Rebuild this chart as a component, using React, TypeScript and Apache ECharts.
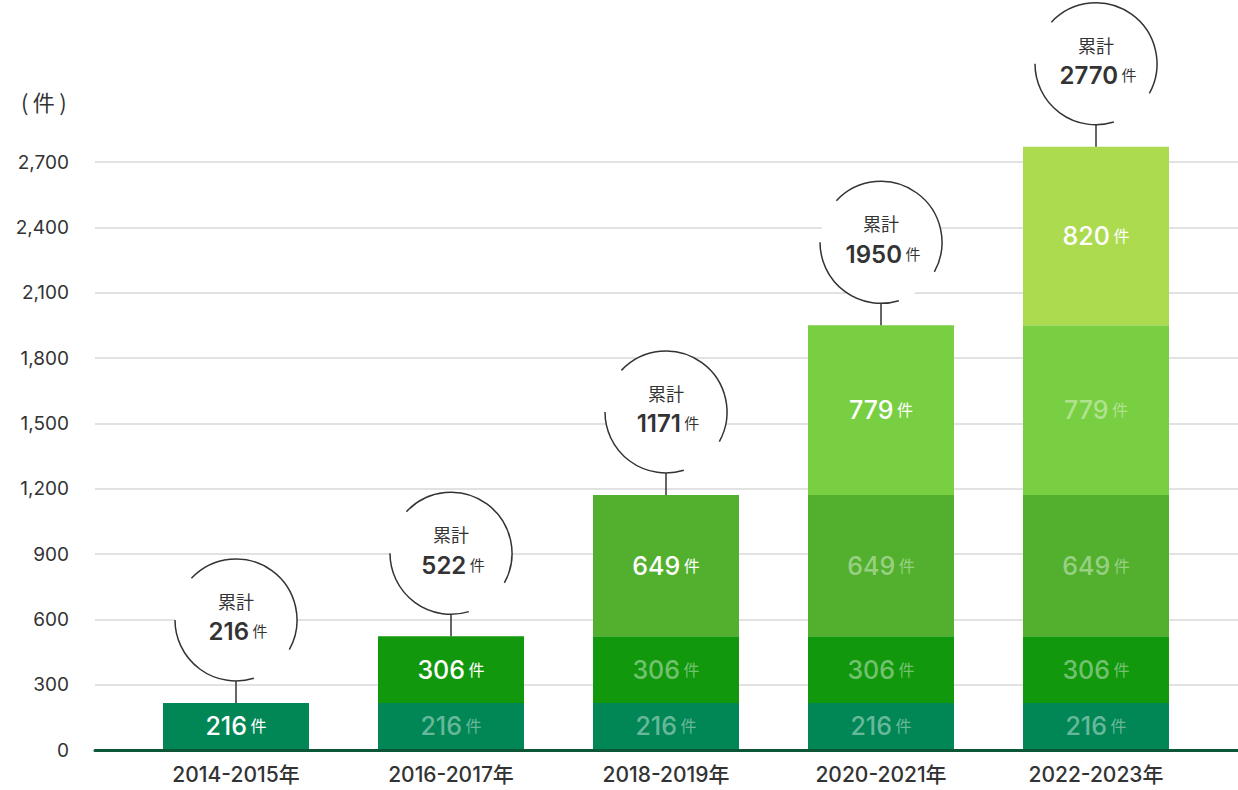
import React, { useEffect, useRef } from "react";
import * as echarts from "echarts";

const categories = ["2014-2015年", "2016-2017年", "2018-2019年", "2020-2021年", "2022-2023年"];
const segmentValues = [216, 306, 649, 779, 820];
const totals = [216, 522, 1171, 1950, 2770];
const segmentColors = ["#008755", "#11980C", "#52B02E", "#78CF41", "#ADDB50"];
const yTicksMax = 2700;
const yInterval = 300;

const FONT = "Inter, 'Noto Sans CJK JP', sans-serif";
const CJK = "'Noto Sans CJK JP', sans-serif";

export default function App() {
  const ref = useRef<HTMLDivElement>(null);
  useEffect(() => {
    if (!ref.current) return;
    const chart = echarts.init(ref.current, undefined, { renderer: "svg" });

    const barSeries = segmentValues.map((v, k) => ({
      type: "bar",
      name: "s" + k,
      xAxisIndex: 1,
      yAxisIndex: 1,
      stack: "total",
      barWidth: 146,
      clip: false,
      itemStyle: { color: segmentColors[k] },
      data: categories.map((_, i) => (i >= k ? v : null)),
      label: {
        show: true,
        position: "inside",
        formatter: (p: any) =>
          p.dataIndex === k ? `{n|${p.value}}{u| 件}` : `{nf|${p.value}}{uf| 件}`,
        rich: {
          n: { fontFamily: FONT, fontSize: 25, fontWeight: 500, color: "#ffffff" },
          u: { fontFamily: CJK, fontSize: 16, color: "#ffffff", padding: [0, 0, 2, 0] },
          nf: { fontFamily: FONT, fontSize: 25, fontWeight: 500, color: "rgba(255,255,255,0.42)" },
          uf: { fontFamily: CJK, fontSize: 16, color: "rgba(255,255,255,0.42)", padding: [0, 0, 2, 0] },
        },
      },
    }));

    const deg = Math.PI / 180;
    const circleSeries = {
      type: "custom",
      xAxisIndex: 1,
      yAxisIndex: 1,
      clip: false,
      z: 10,
      data: totals.map((t, i) => [i, t]),
      renderItem: (params: any, api: any) => {
        const idx = api.value(0);
        const total = api.value(1);
        const p = api.coord([idx, total]);
        const x = p[0];
        const top = p[1];
        const lineLen = 22;
        const r = 61;
        const cy = top - lineLen - r;
        return {
          type: "group",
          children: [
            {
              type: "line",
              shape: { x1: x, y1: top, x2: x, y2: top - lineLen },
              style: { stroke: "#333333", lineWidth: 1.5 },
            },
            {
              type: "circle",
              shape: { cx: x, cy, r },
              style: { fill: "#ffffff", stroke: null },
            },
            {
              type: "arc",
              shape: { cx: x, cy, r, startAngle: -137 * deg, endAngle: 29 * deg, clockwise: true },
              style: { stroke: "#333333", lineWidth: 1.5, fill: null },
            },
            {
              type: "arc",
              shape: { cx: x, cy, r, startAngle: 73 * deg, endAngle: 180 * deg, clockwise: true },
              style: { stroke: "#333333", lineWidth: 1.5, fill: null },
            },
            {
              type: "text",
              style: {
                text: "累計",
                x,
                y: cy - 19,
                align: "center",
                verticalAlign: "middle",
                fontFamily: CJK,
                fontSize: 18,
                fill: "#333333",
              },
            },
            {
              type: "text",
              style: {
                text: `{n|${total}}{u| 件}`,
                x: x + 2,
                y: cy + 12,
                align: "center",
                verticalAlign: "middle",
                rich: {
                  n: { fontFamily: FONT, fontSize: 24, fontWeight: 600, fill: "#333333", color: "#333333" },
                  u: { fontFamily: CJK, fontSize: 15, fill: "#333333", color: "#333333", padding: [0, 0, 2, 0] },
                },
              },
            },
          ],
        };
      },
    };

    chart.setOption({
      animation: false,
      grid: [
        { left: 95, right: 0, top: 162, bottom: 40 },
        { left: 128.5, right: 34.5, top: 162, bottom: 40 },
      ],
      xAxis: [
        {
          type: "category",
          gridIndex: 0,
          data: categories,
          axisLine: { show: true, lineStyle: { color: "#0B5636", width: 3 } },
          axisTick: { show: false },
          axisLabel: { show: false },
          z: 5,
        },
        {
          type: "category",
          gridIndex: 1,
          data: categories,
          axisLine: { show: false },
          axisTick: { show: false },
          axisLabel: { color: "#333333", fontSize: 21, fontWeight: 500, fontFamily: FONT, margin: 14 },
        },
      ],
      yAxis: [
        {
          type: "value",
          gridIndex: 0,
          min: 0,
          max: yTicksMax,
          interval: yInterval,
          axisLine: { show: false },
          axisTick: { show: false },
          axisLabel: {
            color: "#333333",
            fontSize: 19,
            fontFamily: FONT,
            margin: 26,
            formatter: (v: number) => v.toLocaleString("en-US"),
          },
          splitLine: { lineStyle: { color: "#D9D9D9", width: 1.5 } },
        },
        {
          type: "value",
          gridIndex: 1,
          min: 0,
          max: yTicksMax,
          interval: yInterval,
          axisLine: { show: false },
          axisTick: { show: false },
          axisLabel: { show: false },
          splitLine: { show: false },
        },
      ],
      graphic: [
        {
          type: "text",
          left: 21,
          top: 90,
          style: { text: "(\u2009件\u2009)", fontFamily: CJK, fontSize: 22, fill: "#333333" },
        },
      ],
      series: [...barSeries, circleSeries],
    });

    return () => chart.dispose();
  }, []);

  return (
    <div
      ref={ref}
      style={{ position: "fixed", left: 0, top: 0, width: 1238, height: 790, background: "#ffffff" }}
    />
  );
}
